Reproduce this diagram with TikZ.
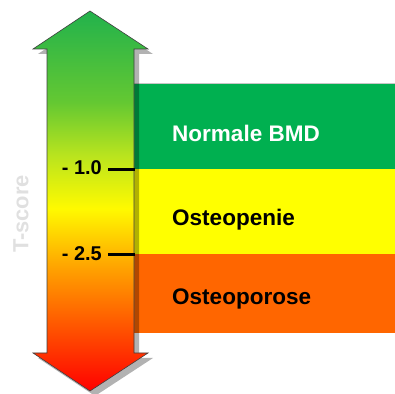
\documentclass[tikz,border=0pt]{standalone}
\usepackage{fontspec}
\setmainfont{Liberation Sans}
\usetikzlibrary{positioning}

\definecolor{bandgreen}{HTML}{00B050}
\definecolor{bandyellow}{HTML}{FFFF00}
\definecolor{bandorange}{HTML}{FF6600}
\pgfdeclareverticalshading{tscale}{100bp}{%
  color(0bp)=(red); color(25bp)=(red);
  color(33bp)=(rgb,255:red,255;green,80;blue,0);
  color(41bp)=(rgb,255:red,255;green,160;blue,0);
  color(49bp)=(rgb,255:red,255;green,250;blue,0);
  color(56bp)=(rgb,255:red,185;green,228;blue,30);
  color(63bp)=(rgb,255:red,100;green,200;blue,50);
  color(75bp)=(rgb,255:red,34;green,178;blue,76);
  color(100bp)=(rgb,255:red,34;green,178;blue,76)}

\tikzset{
  band/.style={draw=gray!45,line width=.5bp},
  bandtext/.style={font=\bfseries\fontsize{22.6}{26}\selectfont,anchor=base west,inner sep=0pt},
  ticklabel/.style={font=\bfseries\fontsize{20}{24}\selectfont,anchor=base east,inner sep=0pt},
  tickline/.style={line width=3bp},
}

\begin{document}
\begin{tikzpicture}[x=1bp,y=1bp]
\useasboundingbox (0,0) rectangle (395,394);
% three classes, top to bottom
\fill[bandgreen] (134,225) rectangle (395,311);
\fill[bandyellow] (134,140) rectangle (395,225);
\fill[bandorange] (134,61) rectangle (395,140);
\draw[band] (134,311) -- (395,311);
\node[bandtext,text=white] (normal) at (172,253) {Normale BMD};
\node[bandtext] (penie) at (172,169) {Osteopenie};
\node[bandtext] (porose) at (172,90) {Osteoporose};
% double arrow with the T-score scale
\fill[black,opacity=.3]
  (95,378) -- (153,340) -- (139,340) -- (139,36) -- (153,36) -- (95,-2)
  -- (38,36) -- (52,36) -- (52,340) -- (38,340) -- cycle;
\shade[shading=tscale,draw=black!75,line width=.6bp]
  (90,383) -- (148,345) -- (134,345) -- (134,41) -- (148,41) -- (90,3)
  -- (33,41) -- (47,41) -- (47,345) -- (33,345) -- cycle;
% cut-off points
\coordinate (t1) at (135,224);
\coordinate (t2) at (135,139);
\node[ticklabel] (m1) at (102,220) {- 1.0};
\node[ticklabel] (m2) at (102,134) {- 2.5};
\draw[tickline] ([xshift=6bp]m1.base east |- t1) -- (t1);
\draw[tickline] ([xshift=6bp]m2.base east |- t2) -- (t2);
\node[rotate=90,text=black!12,font=\bfseries\fontsize{22}{26}\selectfont] (tscore) at (21,180) {T-score};
\end{tikzpicture}
\end{document}
